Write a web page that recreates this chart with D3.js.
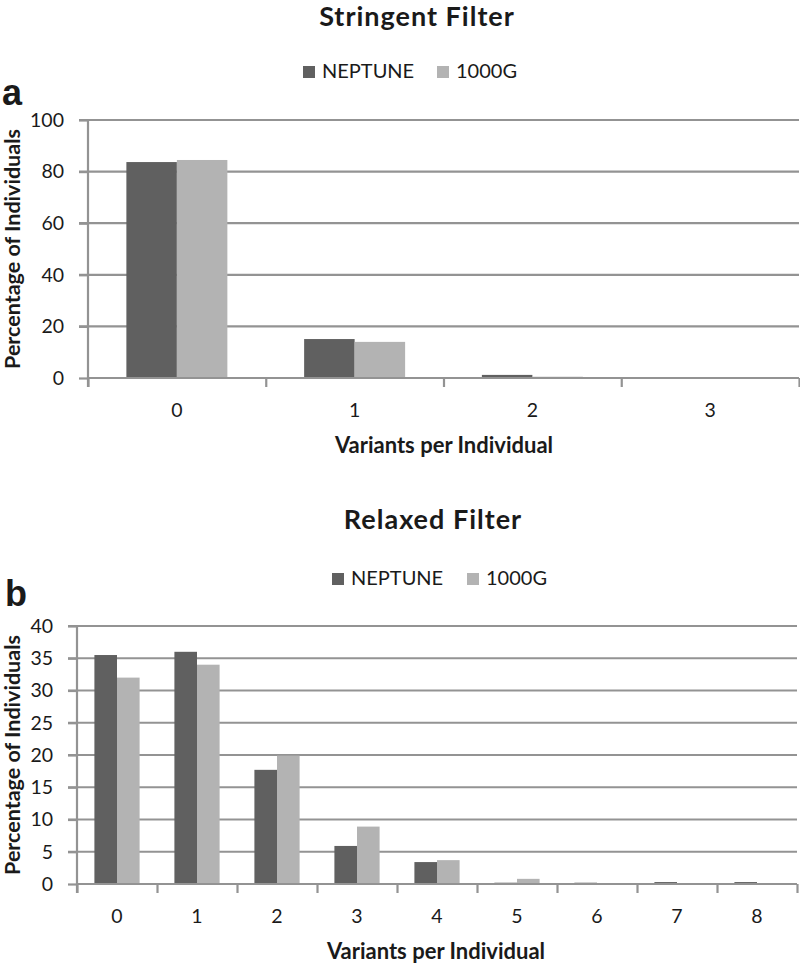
<!DOCTYPE html>
<html>
<head>
<meta charset="utf-8">
<script src="https://cdn.jsdelivr.net/npm/d3@7"></script>
<style>
  body { margin: 0; background: #fff; }
  text { font-family: Lato, "Open Sans", sans-serif; fill: #1a1a1a; }
</style>
</head>
<body>
<svg id="plot"></svg>
<script>
// data
const seriesNames = ["NEPTUNE", "1000G"];
const seriesColors = ["#606060", "#b3b3b3"];

const categoriesA = ["0", "1", "2", "3"];
const neptuneA = [83.7, 15.1, 1.2, 0];
const g1000A = [84.5, 14.0, 0.5, 0];
const yTicksA = [0, 20, 40, 60, 80, 100];

const categoriesB = ["0", "1", "2", "3", "4", "5", "6", "7", "8"];
const neptuneB = [35.5, 36.0, 17.7, 5.9, 3.4, 0.2, 0.2, 0.3, 0.3];
const g1000B = [32.0, 34.0, 19.9, 8.9, 3.7, 0.8, 0.15, 0.05, 0.05];
const yTicksB = [0, 5, 10, 15, 20, 25, 30, 35, 40];

let width = 800;
let height = 964;

let svg = d3.select('#plot')
    .attr('width', width)
    .attr('height', height)
    .style('background', '#FFFFFF');

function drawPanel(p) {
    let g = svg.append('g');

    let xScale = d3.scaleBand()
        .domain(p.categories)
        .range([p.left, p.right])
        .padding(0);

    let xEdge = d3.scaleLinear()
        .domain([0, p.categories.length])
        .range([p.left, p.right]);

    let xInner = d3.scaleBand()
        .domain(seriesNames)
        .range([0, xScale.bandwidth()])
        .paddingInner(0)
        .paddingOuter(p.groupPad);

    let yScale = d3.scaleLinear()
        .domain([0, d3.max(p.yTicks)])
        .range([p.bottom, p.top]);

    // gridlines
    g.selectAll('.grid')
        .data(p.yTicks.slice(1))
        .enter()
        .append('line')
        .attr('x1', p.left - 9)
        .attr('x2', p.right)
        .attr('y1', d => yScale(d))
        .attr('y2', d => yScale(d))
        .style('stroke', '#939393')
        .style('stroke-width', 2.2);

    // bars
    let rows = p.categories.map((c, i) => ({ cat: c, vals: [p.s1[i], p.s2[i]] }));
    let groups = g.selectAll('.grp')
        .data(rows)
        .enter()
        .append('g')
        .attr('transform', d => `translate(${xScale(d.cat)},0)`);

    groups.selectAll('rect')
        .data(d => d.vals.map((v, k) => ({ name: seriesNames[k], v: v, k: k })))
        .enter()
        .append('rect')
        .attr('x', d => xInner(d.name))
        .attr('y', d => yScale(d.v))
        .attr('width', xInner.bandwidth())
        .attr('height', d => p.bottom - yScale(d.v))
        .attr('fill', d => seriesColors[d.k]);

    // y axis
    let yAxis = g.append('g')
        .attr('transform', `translate(${p.left}, 0)`)
        .call(d3.axisLeft(yScale).tickValues(p.yTicks).tickSize(9).tickPadding(15));
    yAxis.select('.domain').remove();
    yAxis.selectAll('line').style('stroke', '#939393').style('stroke-width', 2.2);
    yAxis.selectAll('text')
        .style('font-family', 'Lato, sans-serif')
        .style('font-size', '19.5px')
        .style('fill', '#1a1a1a');

    // x axis: line, edge ticks, category labels
    g.append('line')
        .attr('x1', p.left).attr('x2', p.right)
        .attr('y1', p.bottom).attr('y2', p.bottom)
        .style('stroke', '#939393').style('stroke-width', 2.2);
    g.append('line')
        .attr('x1', p.left).attr('x2', p.left)
        .attr('y1', p.top).attr('y2', p.bottom + 9)
        .style('stroke', '#939393').style('stroke-width', 2.2);

    let xTicks = g.append('g')
        .attr('transform', `translate(0, ${p.bottom})`)
        .call(d3.axisBottom(xEdge).ticks(p.categories.length).tickFormat('').tickSize(9));
    xTicks.select('.domain').remove();
    xTicks.selectAll('line').style('stroke', '#939393').style('stroke-width', 2.2);

    let xLabels = g.append('g')
        .attr('transform', `translate(0, ${p.bottom})`)
        .call(d3.axisBottom(xScale).tickSize(0).tickPadding(25));
    xLabels.select('.domain').remove();
    xLabels.selectAll('text')
        .style('font-family', 'Lato, sans-serif')
        .style('font-size', '19.5px')
        .style('fill', '#1a1a1a');

    // titles
    g.append('text')
        .attr('x', p.titleX)
        .attr('y', p.titleY)
        .attr('text-anchor', 'middle')
        .style('font-size', '27px')
        .style('font-weight', 'bold')
        .style('letter-spacing', '1px')
        .text(p.title);

    g.append('text')
        .attr('x', p.xTitleX)
        .attr('y', p.bottom + 75)
        .attr('text-anchor', 'middle')
        .style('font-size', '22px')
        .style('font-weight', 'bold')
        .text('Variants per Individual');

    g.append('text')
        .attr('transform', `translate(20, ${(p.top + p.bottom) / 2}) rotate(-90)`)
        .attr('text-anchor', 'middle')
        .style('font-size', '21.5px')
        .style('font-weight', 'bold')
        .text('Percentage of Individuals');

    g.append('text')
        .attr('x', p.letterX)
        .attr('y', p.letterY)
        .style('font-family', '"Liberation Sans", Arial, sans-serif')
        .style('font-size', '36px')
        .style('font-weight', 'bold')
        .text(p.letter);

    // legend
    let legend = g.append('g')
        .attr('transform', `translate(${p.legendX}, ${p.legendY})`);
    seriesNames.forEach((name, k) => {
        let ox = k === 0 ? 0 : p.legendGap;
        legend.append('rect')
            .attr('x', ox)
            .attr('y', -12)
            .attr('width', 12)
            .attr('height', 12)
            .style('fill', seriesColors[k]);
        legend.append('text')
            .attr('x', ox + 19)
            .attr('y', 0)
            .style('font-size', '20px')
            .text(name);
    });
}

drawPanel({
    categories: categoriesA, s1: neptuneA, s2: g1000A, yTicks: yTicksA,
    left: 88, right: 799, top: 120, bottom: 378, groupPad: 0.76,
    title: 'Stringent Filter', titleX: 417, titleY: 26, xTitleX: 444,
    letter: 'a', letterX: 2, letterY: 105,
    legendX: 303, legendY: 78, legendGap: 134
});

drawPanel({
    categories: categoriesB, s1: neptuneB, s2: g1000B, yTicks: yTicksB,
    left: 77, right: 797, top: 626, bottom: 884, groupPad: 0.77,
    title: 'Relaxed Filter', titleX: 433, titleY: 529, xTitleX: 436,
    letter: 'b', letterX: 5, letterY: 606,
    legendX: 332, legendY: 585, legendGap: 135
});
</script>
</body>
</html>
